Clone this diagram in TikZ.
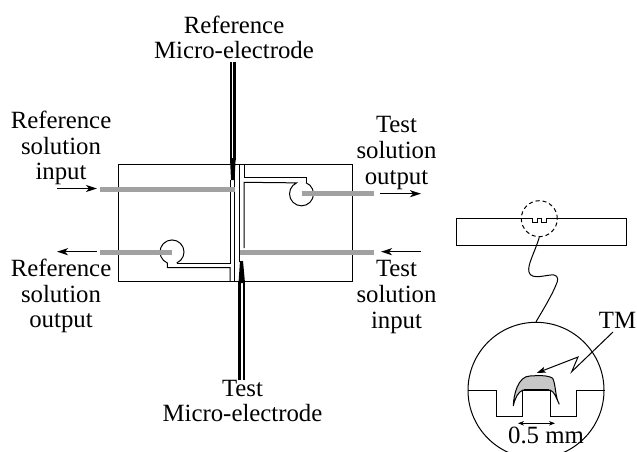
\documentclass[tikz,border=0pt]{standalone}
\usepackage{fontspec}
\setmainfont{Liberation Serif}
\usetikzlibrary{
	arrows.meta,
	calc,
	positioning,
}
\tikzset{default label/.style={
	align=center,
	inner sep=0mm,
	font=\fontsize{24.8}{25.6}\selectfont,
}}
\tikzset{channel/.style={
	draw=black,
	line width=1pt,
}}
\tikzset{solution/.style={
	draw=black!37,
	line width=4.5pt,
}}
\tikzset{electrode/.style={
	draw=black,
	line width=2.3pt,
}}
\tikzset{flow/.style={
	draw=black,
	line width=1.5pt,
	-{Stealth[length=11pt,width=7pt,inset=3pt]},
}}

\begin{document}
\begin{tikzpicture}[x=1pt,y=-1pt]
\useasboundingbox (0,0) rectangle (637,452);

% labels
\node[default label](refelec) 	at (234,37.5) {Reference\\Micro-electrode};
\node[default label](testelec) 	at (242.5,401) {Test\\Micro-electrode};
\node[default label](refin) 	at (61,148) {Reference\\solution\\input};
\node[default label](refout) 	at (61,296) {Reference\\solution\\output};
\node[default label](testout) 	at (396.5,153) {Test\\solution\\output};
\node[default label](testin) 	at (396.5,297) {Test\\solution\\input};
\node[default label](tm) 		at (617.5,320) {TM};
\node[default label](width) 	at (546,435) {0.5 mm};

% chip
\draw[channel] (118,164) rectangle (352,281);

% channels
\draw[channel] (230,180) -- (230,263) -- (176.7,263);
\draw[channel] (176.7,263) arc (67:-247:12) -- (167.3,267.7) -- (230,267.7) -- (230,281);
\draw[channel] (234.7,164) -- (234.7,281);
\draw[channel] (239.4,164) -- (239.4,262);
\draw[channel] (244,164) -- (244,177.7) -- (306,177.7) -- (306,182.7);
\draw[channel] (306,182.7) arc (-68:246:12) -- (244,182.3) -- (244,248);

% solution bars
\draw[solution] (100,189.3) -- (235,189.3);
\draw[solution] (301.7,193.5) -- (374,193.5);
\draw[solution] (100,252.3) -- (172,252.3);
\draw[solution] (239.5,252.3) -- (374,252.3);

% electrodes
\draw[electrode] (231.2,62) -- (231.2,160);
\draw[electrode] (234.5,62) -- (234.5,160);
\fill (230,158) -- (235.7,158) -- (234.5,180) -- (231,180) -- cycle;
\draw[electrode] (239.5,281) -- (239.5,380);
\draw[electrode] (243.7,281) -- (243.7,380);
\fill (240,261) -- (243,261) -- (245,283) -- (238.5,283) -- cycle;

% flows
\coordinate (a1) at (57,188.5);
\coordinate (a2) at (97,188.5);
\coordinate (b1) at (380,193.7);
\coordinate (b2) at (421,193.7);
\coordinate (c1) at (97,251.7);
\coordinate (c2) at (57,251.7);
\coordinate (d1) at (421,251.7);
\coordinate (d2) at (381,251.7);
\draw[flow] (a1) -- (a2);
\draw[flow] (b1) -- (b2);
\draw[flow] (c1) -- (c2);
\draw[flow] (d1) -- (d2);

% cross section
\draw[channel] (456,218.3) -- (532.3,218.3) -- (532.3,222.7) -- (537.3,222.7) -- (537.3,218.3)
	-- (541.7,218.3) -- (541.7,222.7) -- (546.7,222.7) -- (546.7,218.3) -- (626.7,218.3)
	-- (626.7,245) -- (456,245) -- cycle;
\node[draw,dash pattern=on 4pt off 3pt,circle,line width=1pt,minimum size=36pt,inner sep=0mm](spot) at (539.3,218.7) {};
\node[draw,circle,line width=1pt,minimum size=136pt,inner sep=0mm](zoomed) at (536,390.3) {};
\draw[channel] (spot.south) .. controls (535,252) and (527,265) .. (529,272)
	.. controls (531,281) and (548,274) .. (554,275)
	.. controls (559,276) and (558,281) .. (556,285)
	.. controls (552,295) and (543,310) .. (zoomed.north);

% zoomed profile
\filldraw[channel,fill=black!22] (513.3,406) .. controls (513.5,395) and (518,376) .. (530,376)
	.. controls (538,375.5) and (548,375) .. (552.7,378.3)
	.. controls (556,385) and (555,397) .. (559.3,404.3)
	.. controls (556,398) and (555,392) .. (550,390)
	-- (523,390) .. controls (518,392) and (515,398) .. (513.3,406) -- cycle;
\draw[channel] (zoomed.west) -- (496,390.3) -- (496,416.7) -- (522.7,416.7) -- (522.7,390.3)
	-- (550,390.3) -- (550,416.7) -- (576.7,416.7) -- (576.7,390.3) -- (zoomed.east);
\draw[line width=1.8pt] (524,389.5) -- (549,389.5);

% TM pointer
\draw[line width=1pt,-{Stealth[length=9pt,width=6pt,inset=2pt]}] (613,332) -- (571.7,371.7) -- (578,357) -- (536.7,373);

% width mark
\draw[line width=.7pt,{Stealth[length=6pt,width=4.5pt]}-{Stealth[length=6pt,width=4.5pt]}] (518,423.3) -- (555,423.3);

\end{tikzpicture}
\end{document}
